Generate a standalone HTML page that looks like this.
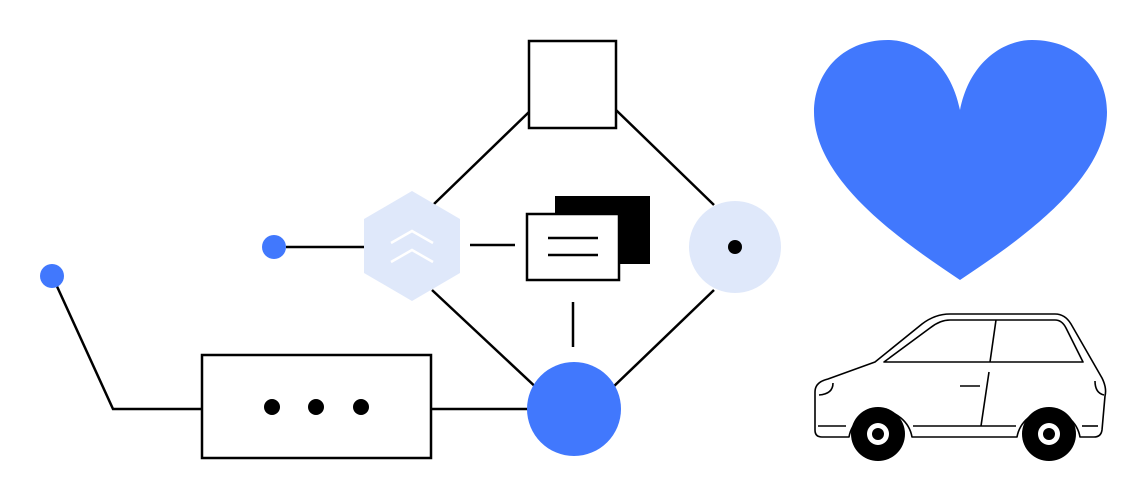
<!DOCTYPE html>
<html><head><style>html,body{margin:0;padding:0;background:#fff;}svg{display:block}</style></head>
<body>
<svg width="1147" height="500" viewBox="0 0 1147 500" xmlns="http://www.w3.org/2000/svg">
<g stroke="#000" stroke-width="2.5" fill="none">
<line x1="529" y1="112" x2="434" y2="204"/>
<line x1="616" y1="110" x2="714" y2="205"/>
<line x1="432" y1="290" x2="541" y2="392"/>
<line x1="714" y1="290" x2="610" y2="390"/>
<line x1="470" y1="245" x2="515" y2="245"/>
<line x1="573" y1="302" x2="573" y2="347"/>
<line x1="286" y1="247" x2="364" y2="247"/>
<polyline points="55,282 113,409 202,409"/>
<line x1="431" y1="409" x2="528" y2="409"/>
<rect x="529" y="41" width="87" height="87" fill="#fff"/>
<rect x="202" y="355" width="229" height="103" fill="#fff"/>
</g>
<circle cx="272" cy="407" r="8"/><circle cx="316" cy="407" r="8"/><circle cx="361" cy="407" r="8"/>
<circle cx="274" cy="247" r="12" fill="#4178fd"/>
<circle cx="52" cy="276" r="12" fill="#4178fd"/>
<polygon points="412,191 460,219 460,273 412,301 364,273 364,219" fill="#dfe8fa"/>
<polyline points="391,243 412,231 433,243" stroke="#fff" stroke-width="2.5" fill="none"/>
<polyline points="391,262 412,250 433,262" stroke="#fff" stroke-width="2.5" fill="none"/>
<rect x="555" y="196" width="95" height="68" fill="#000"/>
<rect x="527" y="214" width="92" height="66" fill="#fff" stroke="#000" stroke-width="2.5"/>
<line x1="548" y1="238" x2="598" y2="238" stroke="#000" stroke-width="2.5"/>
<line x1="548" y1="255" x2="598" y2="255" stroke="#000" stroke-width="2.5"/>
<circle cx="735" cy="247" r="46" fill="#dfe8fa"/>
<circle cx="735" cy="247" r="7"/>
<circle cx="574" cy="409" r="47" fill="#4178fd"/>
<path d="M960,110 C950,60 915,40 888,40 C840,40 814,75 814,112 C814,180 900,240 960,280 C1020,240 1107,180 1107,112 C1107,75 1080,40 1032,40 C1005,40 970,60 960,110Z" fill="#4178fd"/>
<g stroke="#000" stroke-width="1.6" fill="none" stroke-linejoin="round">
<path d="M849,437 L822,437 Q815,437 815,430 L815,392 Q815,382 828,379 L875,362 L922,324 Q935,314 950,314 L1055,314 Q1065,314 1071,324 L1102,378 Q1107,388 1105,396 L1102,430 Q1101,437 1094,437 L1080,437 A32,32 0 0 0 1017,437 L912,437 A32,32 0 0 0 849,437 Z"/>
<path d="M884,362 L930,328 Q940,320 950,320 L1055,320 Q1062,320 1066,328 L1083,362 Z"/>
<line x1="996" y1="320" x2="990" y2="362"/>
<line x1="989" y1="372" x2="981" y2="426"/>
<line x1="960" y1="386" x2="980" y2="386"/>
<line x1="818" y1="426" x2="846" y2="426"/>
<line x1="913" y1="426" x2="1016" y2="426"/>
<line x1="1082" y1="426" x2="1098" y2="426"/>
<path d="M833,383 Q833,394 819,395"/>
<path d="M1095,381 Q1095,393 1104,395"/>
</g>
<circle cx="878" cy="434" r="27"/><circle cx="878" cy="434" r="11" fill="#fff"/><circle cx="878" cy="434" r="6"/>
<circle cx="1049" cy="434" r="27"/><circle cx="1049" cy="434" r="11" fill="#fff"/><circle cx="1049" cy="434" r="6"/>
</svg>
</body></html>
